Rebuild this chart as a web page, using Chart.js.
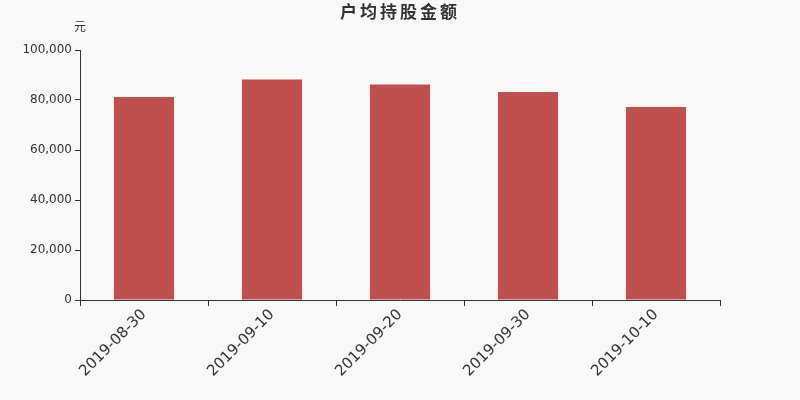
<!DOCTYPE html>
<html>
<head>
<meta charset="utf-8">
<script src="https://cdn.jsdelivr.net/npm/chart.js@4/dist/chart.umd.min.js"></script>
<style>
  html, body { margin: 0; padding: 0; background: #f8f8f8; }
  #wrap { width: 800px; height: 400px; }
</style>
</head>
<body>
<div id="wrap"><canvas id="avgChart" width="800" height="400"></canvas></div>
<script>
// 户均持股金额
const chartTitle = "户均持股金额";
const unitText = "元";
const dates = ["2019-08-30", "2019-09-10", "2019-09-20", "2019-09-30", "2019-10-10"];
const amounts = [81200, 88200, 86200, 83200, 77200];
const yMax = 100000;
const yStep = 20000;

const FONT = "'DejaVu Sans', 'Noto Sans CJK SC', sans-serif";

// title (letter spaced) and the unit label above the y axis
const headerText = {
    id: "headerText",
    afterDraw(chart) {
        const ctx = chart.ctx;
        const y = chart.scales.y;
        ctx.save();
        ctx.fillStyle = "#333";
        ctx.textBaseline = "middle";
        ctx.textAlign = "center";
        ctx.font = "bold 17px " + FONT;
        if ("letterSpacing" in ctx) ctx.letterSpacing = "3px";
        ctx.fillText(chartTitle, 400, 14);
        if ("letterSpacing" in ctx) ctx.letterSpacing = "0px";
        ctx.font = "12px " + FONT;
        ctx.fillText(unitText, y.right, 28);
        ctx.restore();
    }
};

new Chart(document.getElementById("avgChart"), {
    type: 'bar',
    data: {
        labels: dates,
        datasets: [{
            label: chartTitle,
            data: amounts,
            backgroundColor: "#c0504f",
            categoryPercentage: 1,
            barPercentage: 0.47
        }]
    },
    options: {
        responsive: false,
        animation: false,
        devicePixelRatio: 1,
        locale: 'en-US',
        layout: { padding: { left: 0, right: 80, top: 50, bottom: 0 } },
        plugins: {
            legend: { display: false },
            tooltip: { enabled: false },
            title: { display: false }
        },
        scales: {
            x: {
                afterFit(scale) { scale.height = 100; },
                grid: {
                    offset: true,
                    drawOnChartArea: false,
                    tickLength: 6,
                    tickColor: "#333"
                },
                border: { color: "#333" },
                ticks: {
                    color: "#333",
                    font: { family: FONT, size: 15 },
                    minRotation: 45,
                    maxRotation: 45,
                    padding: 0
                }
            },
            y: {
                min: 0,
                max: yMax,
                afterFit(scale) { scale.width = 80; },
                grid: {
                    drawOnChartArea: false,
                    tickLength: 5,
                    tickColor: "#333"
                },
                border: { color: "#333" },
                ticks: {
                    stepSize: yStep,
                    color: "#333",
                    font: { family: FONT, size: 12 },
                    padding: 3
                }
            }
        }
    },
    plugins: [headerText]
});
</script>
</body>
</html>
